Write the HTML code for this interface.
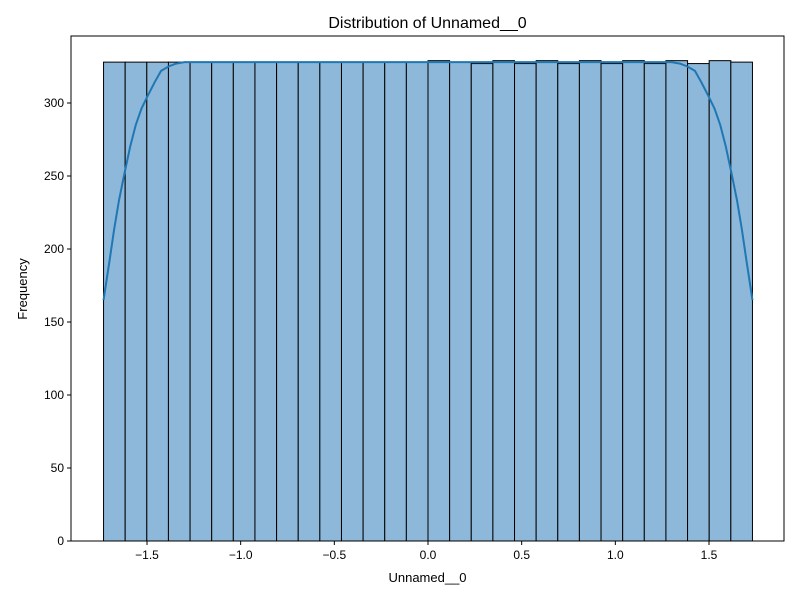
<!DOCTYPE html>
<html><head><meta charset="utf-8"><style>
body{margin:0;background:#fff;font-family:"Liberation Sans",sans-serif}
</style></head><body>
<svg id="chart" width="800" height="600" xmlns="http://www.w3.org/2000/svg">
<rect width="800" height="600" fill="#fff"/>
<g id="bars"></g>
<g id="kde"></g>
<g id="axes"></g>
<text x="427.5" y="28" text-anchor="middle" font-size="16">Distribution of Unnamed__0</text>
<text x="427.5" y="582" text-anchor="middle" font-size="13">Unnamed__0</text>
<text transform="translate(27,289) rotate(-90)" text-anchor="middle" font-size="13">Frequency</text>
</svg>
<script>
const binStart = -1.732, binEnd = 1.732;
const counts = [328,328,328,328,328,328,328,328,328,328,328,328,328,328,328,329,328,327,329,327,329,327,329,327,329,327,329,327,329,328];
const kdeX = [-1.732,-1.70,-1.676,-1.65,-1.62,-1.59,-1.56,-1.53,-1.5,-1.46,-1.425,-1.385,-1.345,-1.3,-1.25,-1.0,0,1.0,1.25,1.3,1.345,1.385,1.425,1.46,1.5,1.53,1.56,1.59,1.62,1.65,1.676,1.70,1.732];
const kdeY = [165,192,213,233,252,270,285,296,304,314,322,325,327,328,328,328,328,328,328,328,327,325,322,314,304,296,285,270,252,233,213,192,165];
const xTicks = [-1.5,-1.0,-0.5,0.0,0.5,1.0,1.5];
const xTickLabels = ["\u22121.5","\u22121.0","\u22120.5","0.0","0.5","1.0","1.5"];
const yTicks = [0,50,100,150,200,250,300];
const L=71,R=784,T=36,B=541;
const sx = v => 428 + v*187.33;
const sy = v => B - v*1.46;
const NS="http://www.w3.org/2000/svg";
function mk(tag, attrs, parent){const e=document.createElementNS(NS,tag);for(const k in attrs)e.setAttribute(k,attrs[k]);parent.appendChild(e);return e;}
const bars=document.getElementById('bars');
const w=(binEnd-binStart)/counts.length;
counts.forEach((c,i)=>{
  const x0=sx(binStart+i*w), x1=sx(binStart+(i+1)*w);
  const r=mk('rect',{x:x0,y:sy(c),width:x1-x0,height:B-sy(c),fill:'#8db8d9',stroke:'#000','stroke-width':1},bars);
  
  
});
const kde=document.getElementById('kde');
const p=mk('path',{d:kdeX.map((x,i)=>(i?'L':'M')+sx(x)+','+sy(kdeY[i])).join(' '),fill:'none',stroke:'#1f77b4','stroke-width':2,'stroke-linejoin':'round'},kde);


const ax=document.getElementById('axes');
const frame=mk('rect',{x:L,y:T,width:R-L,height:B-T,fill:'none',stroke:'#000','stroke-width':1},ax);


xTicks.forEach((v,i)=>{
  mk('line',{x1:sx(v),x2:sx(v),y1:B,y2:B+4,stroke:'#000'},ax);
  const t=mk('text',{x:sx(v),y:B+18,'text-anchor':'middle','font-size':12},ax);
  t.textContent=xTickLabels[i];
  
  
});
yTicks.forEach(v=>{
  mk('line',{x1:L-4,x2:L,y1:sy(v),y2:sy(v),stroke:'#000'},ax);
  const t=mk('text',{x:L-7,y:sy(v)+4,'text-anchor':'end','font-size':12},ax);
  t.textContent=v;
  
  
});
</script>
</body></html>
